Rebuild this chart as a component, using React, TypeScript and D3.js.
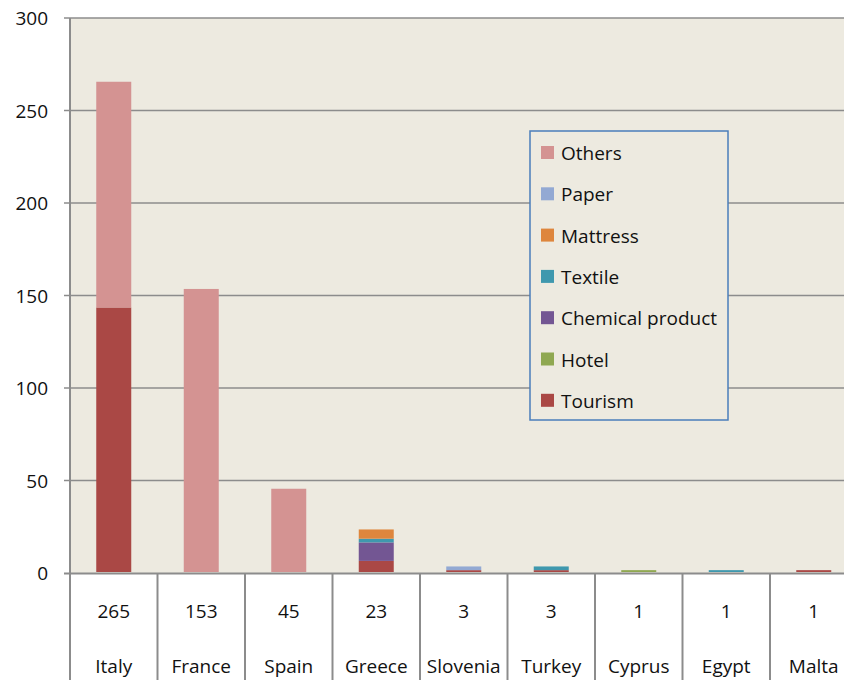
import { useEffect, useRef } from 'react'
import * as d3 from 'd3'

const countries = ['Italy', 'France', 'Spain', 'Greece', 'Slovenia', 'Turkey', 'Cyprus', 'Egypt', 'Malta']
const totals = [265, 153, 45, 23, 3, 3, 1, 1, 1]

// stack order, bottom to top
const sectors = ['Tourism', 'Hotel', 'Chemical product', 'Textile', 'Mattress', 'Paper', 'Others']
const sectorColors = ['#AA4845', '#8FA851', '#735693', '#3F98AE', '#DE863D', '#93A9D3', '#D49392']

const tourism = [143, 0, 0, 6, 1, 1, 0, 0, 1]
const hotel = [0, 0, 0, 0, 0, 0, 1, 0, 0]
const chemical = [0, 0, 0, 10, 0, 0, 0, 0, 0]
const textile = [0, 0, 0, 2, 0, 2, 0, 1, 0]
const mattress = [0, 0, 0, 5, 0, 0, 0, 0, 0]
const paper = [0, 0, 0, 0, 2, 0, 0, 0, 0]
const others = [122, 153, 45, 0, 0, 0, 0, 0, 0]

const yTicks = [0, 50, 100, 150, 200, 250, 300]

export default function App() {
  const svgRef = useRef<SVGSVGElement>(null)

  useEffect(() => {
    if (!svgRef.current) return
    const width = 844
    const height = 680
    const svg = d3.select(svgRef.current)
    svg.selectAll('*').remove()

    const left = 70
    const top = 18
    const bottom = 573
    const bandW = 87.5
    const right = left + bandW * countries.length
    const font = '"Open Sans", sans-serif'
    const fs = 19
    const grey = '#8C8C8C'

    const x = d3.scaleBand<string>()
      .domain(countries)
      .range([left, right])
      .paddingInner(0.6)
      .paddingOuter(0.3)
    const gap = (x.step() - x.bandwidth()) / 2

    const y = d3.scaleLinear().domain([0, 300]).range([bottom, top])

    // plot background
    svg.append('rect')
      .attr('x', left).attr('y', top)
      .attr('width', width - left).attr('height', bottom - top)
      .attr('fill', '#EDEAE0')

    // gridlines
    svg.append('g').selectAll('line')
      .data(yTicks.filter(d => d > 0))
      .enter().append('line')
      .attr('x1', left - 6).attr('x2', width)
      .attr('y1', d => y(d)).attr('y2', d => y(d))
      .attr('stroke', grey).attr('stroke-width', 1.5)

    // y labels
    svg.append('g').selectAll('text')
      .data(yTicks)
      .enter().append('text')
      .attr('x', 48).attr('y', d => y(d) + 7)
      .attr('text-anchor', 'end')
      .attr('font-family', font).attr('font-size', fs).attr('fill', '#111')
      .text(d => d)

    // table area below axis
    svg.append('rect')
      .attr('x', left).attr('y', bottom)
      .attr('width', width - left).attr('height', height - bottom)
      .attr('fill', '#fff')

    // axis lines
    svg.append('line')
      .attr('x1', left - 6).attr('x2', width)
      .attr('y1', bottom + 0.5).attr('y2', bottom + 0.5)
      .attr('stroke', grey).attr('stroke-width', 2)
    svg.append('line')
      .attr('x1', left).attr('x2', left)
      .attr('y1', top).attr('y2', height)
      .attr('stroke', grey).attr('stroke-width', 2)

    // stacked bars
    const rows = countries.map((c, i) => ({
      country: c,
      Tourism: tourism[i],
      Hotel: hotel[i],
      'Chemical product': chemical[i],
      Textile: textile[i],
      Mattress: mattress[i],
      Paper: paper[i],
      Others: others[i],
    }))
    const stack = d3.stack<any>().keys(sectors)(rows)

    svg.append('g').selectAll('g')
      .data(stack)
      .enter().append('g')
      .attr('fill', (_d, i) => sectorColors[i])
      .selectAll('rect')
      .data(d => d.filter(s => s[1] - s[0] > 0))
      .enter().append('rect')
      .attr('x', d => x(d.data.country) as number)
      .attr('width', x.bandwidth())
      .attr('y', d => y(d[1]) - 1)
      .attr('height', d => y(d[0]) - y(d[1]))

    // table separators
    svg.append('g').selectAll('line')
      .data(countries.slice(1))
      .enter().append('line')
      .attr('x1', d => (x(d) as number) - gap)
      .attr('x2', d => (x(d) as number) - gap)
      .attr('y1', bottom).attr('y2', height)
      .attr('stroke', grey).attr('stroke-width', 2)

    // table text
    const tbl = svg.append('g')
      .attr('font-family', font).attr('font-size', fs).attr('fill', '#111')
      .attr('text-anchor', 'middle')
    tbl.selectAll('.tot')
      .data(countries)
      .enter().append('text')
      .attr('class', 'tot')
      .attr('x', d => (x(d) as number) + x.bandwidth() / 2)
      .attr('y', 618)
      .text((_d, i) => totals[i])
    tbl.selectAll('.name')
      .data(countries)
      .enter().append('text')
      .attr('class', 'name')
      .attr('x', d => (x(d) as number) + x.bandwidth() / 2)
      .attr('y', 673)
      .text(d => d)

    // legend
    const lg = svg.append('g').attr('transform', 'translate(530,131)')
    lg.append('rect')
      .attr('width', 198).attr('height', 289)
      .attr('fill', '#EDEAE0').attr('stroke', '#4A7EBB').attr('stroke-width', 1.5)
    const legendItems = sectors.map((s, i) => ({ s, c: sectorColors[i] })).reverse()
    const li = lg.selectAll('.li')
      .data(legendItems)
      .enter().append('g')
      .attr('class', 'li')
      .attr('transform', (_d, i) => `translate(11,${22 + i * 41.3})`)
    li.append('rect')
      .attr('x', 0).attr('y', -7).attr('width', 13).attr('height', 13)
      .attr('fill', d => d.c)
    li.append('text')
      .attr('x', 20).attr('y', 7)
      .attr('font-family', font).attr('font-size', fs).attr('fill', '#111')
      .text(d => d.s)
  }, [])

  return (
    <svg ref={svgRef} width={844} height={680}
      style={{ position: 'absolute', left: 0, top: 0, background: '#fff' }} />
  )
}
